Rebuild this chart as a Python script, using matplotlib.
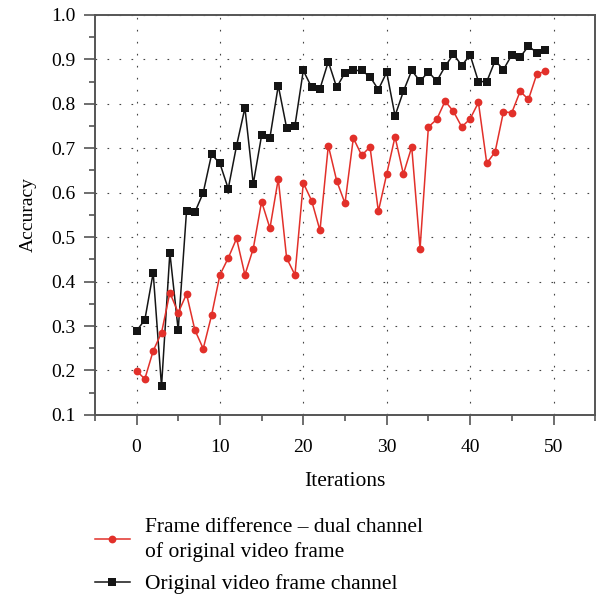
import numpy as np
import matplotlib
matplotlib.use("Agg")
import matplotlib.pyplot as plt
from matplotlib.lines import Line2D

# iterations and accuracy
iterations = list(range(50))

acc_dual = [0.199, 0.181, 0.244, 0.285, 0.375, 0.330, 0.372, 0.291, 0.249, 0.324,
            0.415, 0.453, 0.497, 0.415, 0.474, 0.580, 0.520, 0.631, 0.453, 0.415,
            0.622, 0.582, 0.515, 0.706, 0.627, 0.576, 0.723, 0.684, 0.703, 0.558,
            0.642, 0.726, 0.642, 0.703, 0.474, 0.748, 0.765, 0.806, 0.783, 0.748,
            0.766, 0.803, 0.666, 0.692, 0.782, 0.780, 0.828, 0.810, 0.867, 0.873]

acc_orig = [0.289, 0.314, 0.420, 0.164, 0.465, 0.291, 0.559, 0.556, 0.600, 0.686,
            0.666, 0.609, 0.706, 0.791, 0.620, 0.729, 0.724, 0.841, 0.746, 0.751,
            0.875, 0.837, 0.834, 0.895, 0.837, 0.870, 0.875, 0.875, 0.861, 0.832,
            0.871, 0.773, 0.828, 0.875, 0.851, 0.872, 0.851, 0.884, 0.912, 0.886,
            0.910, 0.850, 0.850, 0.897, 0.877, 0.910, 0.905, 0.930, 0.915, 0.921]

label_dual = "Frame difference \u2013 dual channel\nof original video frame"
label_orig = "Original video frame channel"

plt.rcParams['font.family'] = ['Liberation Serif', 'DejaVu Serif']
plt.rcParams['font.size'] = 14

red = '#e2302a'
blk = '#151515'
spine_col = '#555555'

fig = plt.figure(figsize=(6.0, 5.97), dpi=100)
ax = fig.add_axes([0.158, 0.305, 0.834, 0.670])

ax.plot(iterations, acc_orig, color=blk, lw=1.1, marker='s', ms=6.2,
        markeredgewidth=0, zorder=3)
ax.plot(iterations, acc_dual, color=red, lw=1.1, marker='o', ms=5.6,
        markeredgewidth=0, zorder=4)

ax.set_xlim(-5, 55)
ax.set_ylim(0.1, 1.0)
ax.set_xticks([0, 10, 20, 30, 40, 50])
ax.set_xticks(np.arange(-5, 56, 5), minor=True)
ax.set_yticks(np.arange(0.1, 1.01, 0.1))
ax.set_yticks(np.arange(0.1, 1.0, 0.05), minor=True)
ax.yaxis.set_major_formatter(matplotlib.ticker.FormatStrFormatter('%.1f'))

ax.grid(True, which='major', color='#444444', lw=0.8, linestyle=(0, (1.5, 9.3)))
ax.set_axisbelow(True)

for s in ax.spines.values():
    s.set_color(spine_col)
    s.set_linewidth(1.4)

ax.tick_params(which='both', direction='out', color=spine_col, width=1.2,
               top=False, right=False)
ax.tick_params(axis='y', which='major', length=8, pad=6)
ax.tick_params(axis='x', which='major', length=7, pad=10)
ax.tick_params(which='minor', length=4)

ax.set_xlabel("Iterations", fontsize=15.5, labelpad=12)
ax.set_ylabel("Accuracy", labelpad=10)

h_dual = Line2D([], [], color=red, lw=1.1, marker='o', ms=5.6, markeredgewidth=0)
h_orig = Line2D([], [], color=blk, lw=1.1, marker='s', ms=6.2, markeredgewidth=0)
leg = fig.legend(handles=[h_dual, h_orig], labels=[label_dual, label_orig],
                 loc='upper left', bbox_to_anchor=(0.158, 0.133), frameon=False,
                 fontsize=15.5, borderpad=0, borderaxespad=0, handlelength=1.63,
                 handletextpad=0.7, labelspacing=0.55)
for t in leg.get_texts():
    t.set_linespacing(1.4)

fig.savefig("out.png", dpi=100)
